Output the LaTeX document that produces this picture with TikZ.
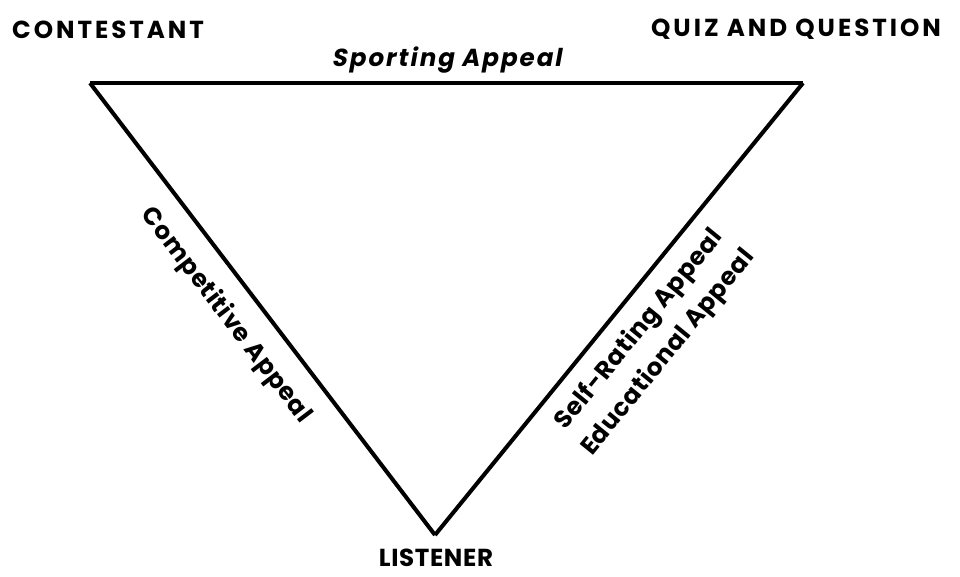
\documentclass[tikz,border=0pt]{standalone}
\usepackage{fontspec}
\setmainfont{Poppins}
\newfontfamily\widefont[LetterSpace=12]{Poppins}
\newfontfamily\appealfont[LetterSpace=2.5]{Poppins}
\newfontfamily\slantfont[FakeSlant=0.18, LetterSpace=8]{Poppins}
\usetikzlibrary{positioning}

\tikzset{
  corner/.style={font=\widefont\bfseries\fontsize{14}{16}\selectfont, inner sep=0pt},
  appeal/.style={font=\appealfont\bfseries\fontsize{14}{21}\selectfont, align=center, inner sep=0pt},
  edge/.style={line width=2.3pt, line join=miter}
}

\begin{document}
\begin{tikzpicture}[x=0.02cm, y=-0.02cm]
  \useasboundingbox (0,0) rectangle (960,576);

  % Corners of the triangle
  \coordinate (contestant) at (90,83);
  \coordinate (quiz) at (803,83);
  \coordinate (listener) at (435,535);

  \node[corner] (contestantlbl) at (108,30) {CONTESTANT};
  \node[corner] (quizlbl) at (796,29) {QUIZ AND QUESTION};
  \node[corner, font=\appealfont\bfseries\fontsize{14}{16}\selectfont] (listenerlbl) at (436,558) {LISTENER};

  % Sides with their appeals
  \draw[edge] (contestant) -- (quiz)
    node[appeal, midway, above=0.46cm, anchor=center] (sporting) {\slantfont Sporting Appeal};
  \draw[edge] (contestant) -- (listener)
    node[appeal, sloped, pos=0.47, below=0.66cm, anchor=center] (competitive) {Competitive Appeal};
  \draw[edge] (listener) -- (quiz)
    node[appeal, sloped, pos=0.495, below=0.95cm, anchor=center] (selfrating) {Self-Rating Appeal\\ Educational Appeal};
\end{tikzpicture}
\end{document}
